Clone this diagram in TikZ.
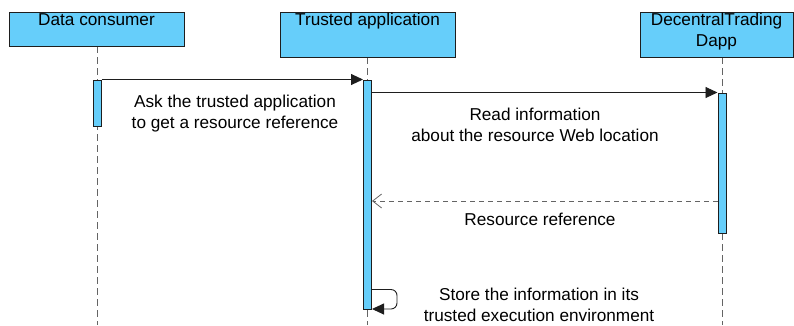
\documentclass[tikz,border=0pt]{standalone}
\usepackage{fontspec}
\setmainfont{Liberation Sans}
\usetikzlibrary{arrows.meta}
\definecolor{actfill}{RGB}{102,206,250}
\definecolor{lineclr}{RGB}{30,30,30}
\definecolor{lifeclr}{RGB}{100,100,100}
\tikzset{
  x=1pt,y=-1pt,
  every node/.style={font=\fontsize{17.2}{21}\selectfont, text=black},
  head/.style={draw=lineclr, fill=actfill, line width=1pt},
  act/.style={draw=lineclr, fill=actfill, line width=1pt},
  life/.style={draw=lifeclr, line width=1pt, dash pattern=on 7pt off 4pt},
  msg/.style={draw=lineclr, line width=0.9pt, -{Triangle[length=12pt,width=11pt]}},
  reply/.style={draw=lifeclr, line width=0.9pt, dash pattern=on 5pt off 4pt, -{Straight Barb[length=9pt,width=14pt,line width=0.8pt]}},
  lbl/.style={align=center, inner sep=0pt}
}
\begin{document}
\begin{tikzpicture}
\useasboundingbox (0,0) rectangle (794,325);
% lifelines
\coordinate (l1t) at (97,46);  \coordinate (l1b) at (97,325);
\coordinate (l2t) at (367,57); \coordinate (l2b) at (367,325);
\coordinate (l3t) at (722,57); \coordinate (l3b) at (722,325);
\draw[life] (l1t) -- (l1b);
\draw[life] (l2t) -- (l2b);
\draw[life] (l3t) -- (l3b);
% headers
\path[head] (9,12) rectangle (184,46);
\node[lbl, anchor=north] (h1) at (96.5,13) {Data consumer};
\path[head] (280,12) rectangle (455,57);
\node[lbl, anchor=north] (h2) at (367.5,13) {Trusted application};
\path[head] (640,12) rectangle (793.5,57);
\node[lbl, anchor=north] (h3) at (716.5,13) {DecentralTrading\\Dapp};
% activations
\node[act, minimum width=8pt, minimum height=46pt, inner sep=0pt, anchor=north] (a1) at (97,79.5) {};
\node[act, minimum width=8pt, minimum height=229.5pt, inner sep=0pt, anchor=north] (a2) at (367.5,79.5) {};
\node[act, minimum width=8pt, minimum height=140pt, inner sep=0pt, anchor=north] (a3) at (722,92.5) {};
% messages
\draw[msg] (a1.north east) -- (a2.north west);
\coordinate (m2s) at ([yshift=-13pt]a2.north east);
\draw[msg] (m2s) -- (a3.north west);
\coordinate (m3s) at (a3.west |- 0,201);
\coordinate (m3e) at (a2.east |- 0,201);
\draw[reply] (m3s) -- (m3e);
\coordinate (s1) at (a2.east |- 0,289.5);
\coordinate (s2) at (a2.east |- 0,309);
\draw[msg, rounded corners=6pt] (s1) -- (397,289.5) -- (397,309) -- (s2);
% labels
\node[lbl] (t1) at (235,113.5) {Ask the trusted application\\to get a resource reference};
\node[lbl] (t2) at (535,124.5) {Read information\\about the resource Web location};
\node[lbl] (t3) at (540,219) {Resource reference};
\node[lbl] (t4) at (539,304.5) {Store the information in its\\trusted execution environment};
\end{tikzpicture}
\end{document}
